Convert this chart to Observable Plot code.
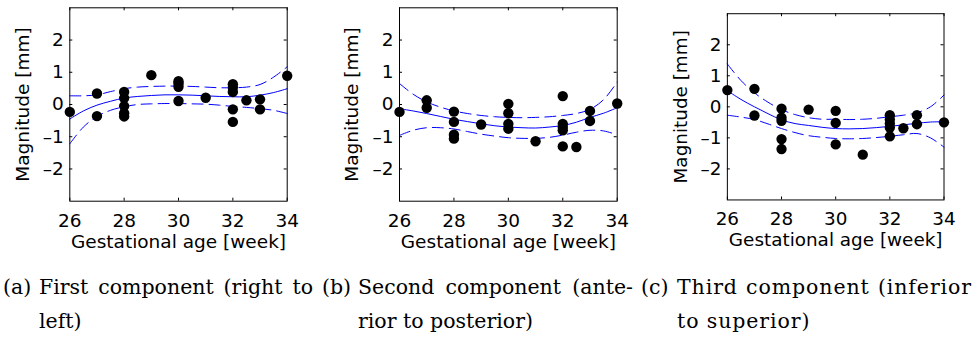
<!DOCTYPE html>
<html>
<head>
<meta charset="utf-8">
<script src="https://cdn.jsdelivr.net/npm/d3@7"></script>
<script src="https://cdn.jsdelivr.net/npm/@observablehq/plot@0.6"></script>
<style>
  body { margin: 0; background: #fff; width: 976px; height: 354px; position: relative; overflow: hidden; }
  .panel { position: absolute; top: 0; }
  .cap { position: absolute; top: 270px; font-family: "DejaVu Serif", serif; font-size: 20.5px; line-height: 34px; color: #000; }
  .cap .l1 { display: flex; white-space: nowrap; }
  .cap .tag { flex: none; width: 36px; letter-spacing: 0; }
  .cap .txt { flex: 1; text-align: justify; text-align-last: justify; }
  .cap .l2 { padding-left: 36px; white-space: nowrap; }
  .cap.wide .txt, .cap.wide .l2 { letter-spacing: 0.9px; }
</style>
</head>
<body>
<div id="pa" class="panel" style="left:0px"></div>
<div id="pb" class="panel" style="left:330px"></div>
<div id="pc" class="panel" style="left:658px"></div>

<div class="cap" style="left:3px;width:310px">
  <div class="l1"><span class="tag">(a)</span><span class="txt">First component (right to</span></div>
  <div class="l2">left)</div>
</div>
<div class="cap" style="left:322px;width:311px">
  <div class="l1"><span class="tag">(b)</span><span class="txt">Second component (ante-</span></div>
  <div class="l2">rior to posterior)</div>
</div>
<div class="cap wide" style="left:641px;width:331px">
  <div class="l1"><span class="tag">(c)</span><span class="txt">Third component (inferior</span></div>
  <div class="l2">to superior)</div>
</div>

<script>
// Axis ticks
const xTicks = [26, 28, 30, 32, 34];
const yTicks = [-2, -1, 0, 1, 2];

// Measurements per subject: gestational age [week] and magnitude [mm]
const ageA = [26, 27, 27, 28, 28, 28, 28, 28, 29, 30, 30, 30, 30, 31, 32, 32, 32, 32, 32, 32.5, 33, 33, 34];
const magA = [-0.23, 0.34, -0.36, 0.39, 0.2, -0.05, -0.27, -0.37, 0.91, 0.72, 0.65, 0.55, 0.11, 0.21, 0.63, 0.53, 0.39, -0.15, -0.54, 0.13, 0.16, -0.15, 0.89];

const ageB = [26, 27, 27, 28, 28, 28, 28, 29, 30, 30, 30, 30, 31, 32, 32, 32, 32, 32, 32.5, 33, 33, 34];
const magB = [-0.23, 0.13, -0.1, -0.22, -0.54, -0.94, -1.06, -0.62, 0.02, -0.27, -0.6, -0.75, -1.14, 0.26, -0.6, -0.7, -0.8, -1.3, -1.32, -0.2, -0.51, 0.03];

const ageC = [26, 27, 27, 28, 28, 28, 28, 28, 29, 30, 30, 30, 31, 32, 32, 32, 32, 32, 32.5, 33, 33, 34];
const magC = [0.54, 0.58, -0.28, -0.06, -0.35, -0.45, -1.04, -1.36, -0.09, -0.13, -0.52, -1.21, -1.54, -0.27, -0.41, -0.54, -0.67, -0.95, -0.69, -0.27, -0.56, -0.5];

// Fitted trend and confidence band, sampled every half week
const fitWeeks = [26, 26.5, 27, 27.5, 28, 28.5, 29, 29.5, 30, 30.5, 31, 31.5, 32, 32.5, 33, 33.5, 34];

const fitA   = [-0.45, -0.2, -0.02, 0.1, 0.2, 0.25, 0.28, 0.3, 0.3, 0.29, 0.27, 0.25, 0.24, 0.24, 0.29, 0.37, 0.49];
const upperA = [0.27, 0.27, 0.3, 0.4, 0.49, 0.54, 0.56, 0.57, 0.57, 0.56, 0.54, 0.52, 0.52, 0.54, 0.62, 0.85, 1.17];
const lowerA = [-1.22, -0.7, -0.37, -0.18, -0.07, 0.0, 0.02, 0.03, 0.03, 0.02, 0.01, -0.02, -0.06, -0.09, -0.13, -0.18, -0.28];

const fitB   = [-0.13, -0.2, -0.28, -0.37, -0.46, -0.53, -0.6, -0.66, -0.7, -0.72, -0.73, -0.7, -0.65, -0.55, -0.4, -0.27, -0.1];
const upperB = [0.65, 0.32, 0.08, -0.08, -0.2, -0.28, -0.34, -0.38, -0.4, -0.41, -0.4, -0.38, -0.34, -0.28, -0.15, 0.15, 0.7];
const lowerB = [-0.96, -0.8, -0.72, -0.72, -0.76, -0.84, -0.92, -0.98, -1.03, -1.05, -1.05, -1.02, -0.95, -0.86, -0.8, -0.82, -0.94];

const fitC   = [0.52, 0.24, 0.0, -0.22, -0.42, -0.54, -0.6, -0.66, -0.7, -0.71, -0.7, -0.67, -0.63, -0.58, -0.53, -0.49, -0.48];
const upperC = [1.38, 0.85, 0.45, 0.15, -0.09, -0.25, -0.35, -0.4, -0.4, -0.41, -0.4, -0.37, -0.32, -0.27, -0.19, 0.0, 0.38];
const lowerC = [-0.27, -0.33, -0.41, -0.55, -0.7, -0.83, -0.93, -0.98, -1.02, -1.03, -1.02, -0.99, -0.95, -0.9, -0.86, -1.0, -1.3];

const BLUE = "#0000ff";
const TICK = 3;

function panel({ages, mags, fit, upper, lower, marginLeft, frameW, marginTop}) {
  const width = 320;
  const height = 260;
  const frameBottom = 200.7;
  const marginBottom = height - frameBottom;
  const frameH = frameBottom - marginTop;
  const points = ages.map((a, i) => ({age: a, mag: mags[i]}));
  const curve = (vals) => fitWeeks.map((w, i) => ({age: w, mag: vals[i]}));
  return Plot.plot({
    width, height,
    marginLeft, marginRight: width - marginLeft - frameW,
    marginTop, marginBottom,
    style: {fontFamily: "'DejaVu Sans', sans-serif", fontSize: "18.5px", color: "#000", background: "#fff"},
    x: {domain: [26, 34]},
    y: {domain: [-3, 3]},
    marks: [
      // inward ticks on all four sides
      Plot.tickY(yTicks, {y: d => d, insetRight: frameW - TICK, stroke: "#000"}),
      Plot.tickY(yTicks, {y: d => d, insetLeft: frameW - TICK, stroke: "#000"}),
      Plot.tickX(xTicks, {x: d => d, insetTop: frameH - TICK, stroke: "#000"}),
      Plot.tickX(xTicks, {x: d => d, insetBottom: frameH - TICK, stroke: "#000"}),
      Plot.axisX(xTicks, {tickSize: 0, tickPadding: 12.5, label: null, fontSize: 18.5}),
      Plot.axisY(yTicks, {tickSize: 0, tickPadding: 6, label: null, fontSize: 18.5,
        tickFormat: d => d < 0 ? "\u2013" + Math.abs(d) : String(d)}),
      Plot.line(curve(upper), {x: "age", y: "mag", stroke: BLUE, strokeWidth: 1, strokeDasharray: "11,6", curve: "catmull-rom"}),
      Plot.line(curve(lower), {x: "age", y: "mag", stroke: BLUE, strokeWidth: 1, strokeDasharray: "11,6", curve: "catmull-rom"}),
      Plot.line(curve(fit), {x: "age", y: "mag", stroke: BLUE, strokeWidth: 1, curve: "catmull-rom"}),
      Plot.dot(points, {x: "age", y: "mag", r: 5.2, fill: "#000", stroke: null}),
      Plot.frame({stroke: "#000", strokeWidth: 1}),
      Plot.text(["Gestational age [week]"], {text: d => d, frameAnchor: "bottom", dy: 40.5, textAnchor: "middle", lineAnchor: "middle", fontSize: 18.5}),
      Plot.text(["Magnitude [mm]"], {text: d => d, frameAnchor: "left", dx: -47, rotate: -90, textAnchor: "middle", lineAnchor: "middle", fontSize: 18.5})
    ]
  });
}

document.getElementById("pa").append(panel({ages: ageA, mags: magA, fit: fitA, upper: upperA, lower: lowerA, marginLeft: 69.3, frameW: 217.4, marginTop: 7.3}));
document.getElementById("pb").append(panel({ages: ageB, mags: magB, fit: fitB, upper: upperB, lower: lowerB, marginLeft: 69, frameW: 217.7, marginTop: 7.3}));
document.getElementById("pc").append(panel({ages: ageC, mags: magC, fit: fitC, upper: upperC, lower: lowerC, marginLeft: 69.3, frameW: 218, marginTop: 13.3}));
</script>
</body>
</html>
